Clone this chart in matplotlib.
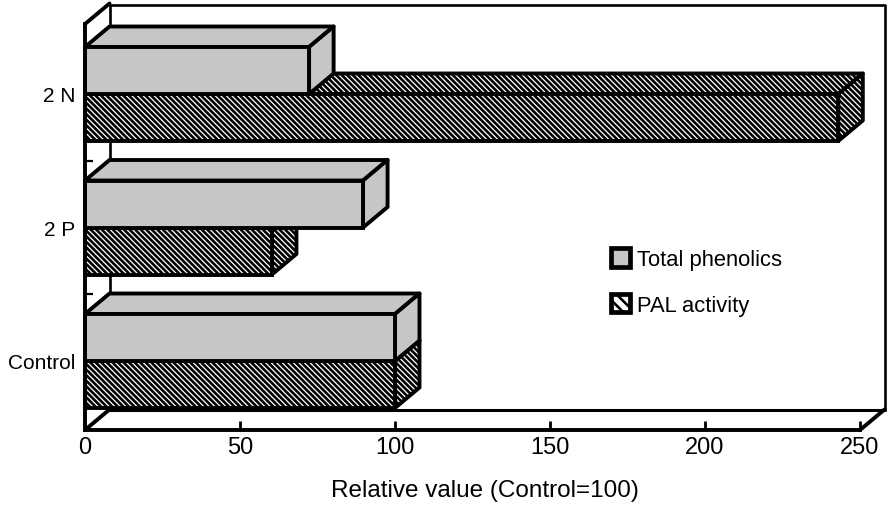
import matplotlib
matplotlib.use("Agg")
import matplotlib.pyplot as plt
from matplotlib.patches import Polygon, Patch

plt.rcParams['font.family'] = ['Liberation Sans', 'DejaVu Sans']
plt.rcParams['hatch.linewidth'] = 1.9

categories = ['Control', '2 P', '2 N']
phenolics = [100, 89.7, 72.3]
pal = [100, 60.3, 243]
xticks = [0, 50, 100, 150, 200, 250]
series_names = ['Total phenolics', 'PAL activity']
xlabel = 'Relative value (Control=100)'

W, H = 893, 506
L, R, T, B = 85, 860, 25, 431
PX_X = (R - L) / 250
PX_Y = 133.5
DX = 24.5 / PX_X
DY = 20.5 / PX_Y
BAR_H = 47 / PX_Y
ymin = -(B - 362) / PX_Y
ymax = (362 - T) / PX_Y
LW = 2.8

STIP = dict(facecolor='#c6c6c6', edgecolor='#c6c6c6')
HATCH = dict(facecolor='#ffffff', edgecolor='black', hatch='\\\\\\\\\\\\')

fig = plt.figure(figsize=(W / 100, H / 100), dpi=100)
ax = fig.add_axes([L / W, 1 - B / H, (R - L) / W, (B - T) / H])
ax.set_xlim(0, 250)
ax.set_ylim(ymin, ymax)
ax.patch.set_alpha(0)


def face(pts, style, z):
    ax.add_patch(Polygon(pts, closed=True, clip_on=False, zorder=z, linewidth=0, **style))
    ax.add_patch(Polygon(pts, closed=True, clip_on=False, zorder=z, fill=False,
                         edgecolor='black', linewidth=LW, joinstyle='round'))


def bar3d(v, y0, style, z):
    face([(0, y0 + BAR_H), (v, y0 + BAR_H), (v + DX, y0 + BAR_H + DY), (DX, y0 + BAR_H + DY)], style, z)
    face([(v, y0), (v + DX, y0 + DY), (v + DX, y0 + BAR_H + DY), (v, y0 + BAR_H)], style, z)
    ax.barh(y0, v, height=BAR_H, align='edge', clip_on=False, zorder=z, linewidth=0, **style)
    ax.barh(y0, v, height=BAR_H, align='edge', clip_on=False, zorder=z, fill=False,
            edgecolor='black', linewidth=LW)


# back wall, floor, left wall
wall = dict(color='black', clip_on=False, zorder=1, solid_capstyle='round')
ax.plot([DX, DX, 250 + DX, 250 + DX], [ymin + DY, ymax + DY - 0.01, ymax + DY - 0.01, ymin + DY],
        lw=1.9, **wall)
ax.plot([DX, 250 + DX], [ymin + DY, ymin + DY], lw=2.2, **wall)
ax.plot([0, DX], [ymin, ymin + DY], lw=LW, **wall)
ax.plot([250, 250 + DX], [ymin, ymin + DY], lw=LW, **wall)
ax.plot([0, DX], [ymax, ymax + DY], lw=LW, **wall)

# bars, back to front
for i in range(len(categories) - 1, -1, -1):
    z = 10 + (len(categories) - i) * 2
    bar3d(pal[i], i - BAR_H, HATCH, z)
    bar3d(phenolics[i], i, STIP, z + 1)

for s in ('top', 'right'):
    ax.spines[s].set_visible(False)
for s in ('left', 'bottom'):
    ax.spines[s].set_linewidth(LW)
    ax.spines[s].set_zorder(30)

ax.set_xticks(xticks)
ax.tick_params(axis='x', direction='in', length=6.5, width=2, labelsize=17, pad=4)
ax.set_yticks(range(len(categories)))
ax.set_yticklabels(categories)
ax.tick_params(axis='y', length=0, labelsize=15, pad=7)
ax.set_yticks([0.5, 1.5], minor=True)
ax.tick_params(axis='y', which='minor', direction='in', length=5.5, width=1.6)
ax.set_xlabel(xlabel, fontsize=17.5)
ax.xaxis.set_label_coords((485 - L) / (R - L), -(491 - B) / (B - T), transform=ax.transAxes)
ax.xaxis.label.set_va('center')

handles = [Patch(label=series_names[0], facecolor='#c6c6c6', edgecolor='black', linewidth=LW + 0.6),
           Patch(label=series_names[1], facecolor='#ffffff', edgecolor='black', hatch='\\\\\\', linewidth=LW + 0.6)]
ax.legend(handles=handles, loc='upper left', frameon=False, fontsize=15.8,
          bbox_to_anchor=((610.5 - L) / (R - L), (B - 249.5) / (B - T)), borderaxespad=0, borderpad=0,
          handlelength=0.9, handleheight=0.9, handletextpad=0.3, labelspacing=1.08)

fig.savefig('out.png', dpi=100)
